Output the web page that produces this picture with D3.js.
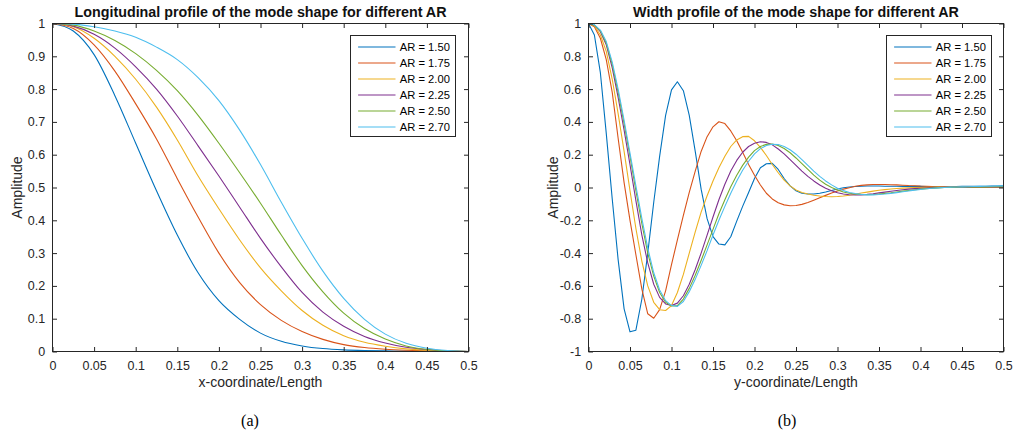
<!DOCTYPE html>
<html>
<head>
<meta charset="utf-8">
<script src="https://cdn.jsdelivr.net/npm/d3@7"></script>
<style>
  html, body { margin: 0; padding: 0; background: #ffffff; }
  svg { display: block; }
</style>
</head>
<body>
<svg id="fig" width="1014" height="435"></svg>
<script>
// ---------------- Data ----------------
const arLabels = ["AR = 1.50", "AR = 1.75", "AR = 2.00", "AR = 2.25", "AR = 2.50", "AR = 2.70"];
const seriesColors = ["#0072BD", "#D95319", "#EDB120", "#7E2F8E", "#77AC30", "#4DBEEE"];

// (a) longitudinal profile, sampled along x/L
const longX = [0, 0.025, 0.05, 0.075, 0.1, 0.125, 0.15, 0.175, 0.2, 0.225, 0.25,
               0.275, 0.3, 0.325, 0.35, 0.375, 0.4, 0.425, 0.45, 0.475, 0.5];
const longAR150 = [1, 0.977, 0.905, 0.78, 0.635, 0.49, 0.355, 0.24, 0.155, 0.098, 0.056,
                   0.031, 0.017, 0.009, 0.005, 0.003, 0.002, 0.001, 0.0005, 0.0002, 0];
const longAR175 = [1, 0.985, 0.935, 0.855, 0.755, 0.648, 0.527, 0.41, 0.30, 0.21, 0.143,
                   0.095, 0.061, 0.037, 0.021, 0.012, 0.007, 0.004, 0.002, 0.001, 0];
const longAR200 = [1, 0.99, 0.955, 0.9, 0.83, 0.745, 0.645, 0.535, 0.435, 0.34, 0.255,
                   0.185, 0.125, 0.08, 0.048, 0.028, 0.016, 0.008, 0.004, 0.002, 0];
const longAR225 = [1, 0.992, 0.967, 0.925, 0.868, 0.80, 0.718, 0.627, 0.535, 0.44, 0.345,
                   0.258, 0.18, 0.12, 0.077, 0.046, 0.026, 0.013, 0.006, 0.002, 0];
const longAR250 = [1, 0.995, 0.977, 0.948, 0.908, 0.857, 0.795, 0.72, 0.635, 0.545, 0.452,
                   0.355, 0.262, 0.182, 0.117, 0.07, 0.038, 0.017, 0.006, 0.002, 0];
const longAR270 = [1, 0.998, 0.99, 0.977, 0.958, 0.928, 0.89, 0.835, 0.765, 0.675, 0.57,
                   0.455, 0.345, 0.245, 0.162, 0.098, 0.053, 0.025, 0.01, 0.003, 0];

// (b) width profile, sampled along y/L
const widthY = [0, 0.0071, 0.0143, 0.0214, 0.0286, 0.0357, 0.0429, 0.05, 0.0571, 0.0643,
  0.0714, 0.0786, 0.0857, 0.0929, 0.1, 0.1071, 0.1143, 0.1214, 0.1286, 0.1357,
  0.1429, 0.15, 0.1571, 0.1643, 0.1714, 0.1786, 0.1857, 0.1929, 0.2, 0.2071,
  0.2143, 0.2214, 0.2286, 0.2357, 0.2429, 0.25, 0.2571, 0.2643, 0.2714, 0.2786,
  0.2857, 0.2929, 0.3, 0.3071, 0.3143, 0.3214, 0.3286, 0.3357, 0.3429, 0.35,
  0.3571, 0.3643, 0.3714, 0.3786, 0.3857, 0.3929, 0.4, 0.4071, 0.4143, 0.4214,
  0.4286, 0.4357, 0.4429, 0.45, 0.4571, 0.4643, 0.4714, 0.4786, 0.4857, 0.4929, 0.5];
const widthAR150 = [1, 0.93, 0.70, 0.33, -0.07, -0.44, -0.74, -0.88, -0.87, -0.68,
  -0.40, -0.09, 0.19, 0.44, 0.595, 0.645, 0.59, 0.44, 0.22, -0.01,
  -0.19, -0.30, -0.345, -0.35, -0.30, -0.205, -0.115, -0.03, 0.055, 0.12,
  0.145, 0.147, 0.11, 0.055, 0.01, -0.02, -0.035, -0.04, -0.04, -0.035,
  -0.027, -0.018, -0.009, -0.002, 0.003, 0.006, 0.008, 0.009, 0.009, 0.009,
  0.008, 0.008, 0.008, 0.007, 0.007, 0.007, 0.007, 0.006, 0.006, 0.006,
  0.006, 0.006, 0.006, 0.007, 0.007, 0.007, 0.008, 0.008, 0.009, 0.009, 0.01];
const widthAR175 = [1, 0.98, 0.91, 0.78, 0.58, 0.30, 0.03, -0.20, -0.41, -0.62,
  -0.77, -0.797, -0.745, -0.63, -0.47, -0.32, -0.17, -0.03, 0.10, 0.22,
  0.31, 0.37, 0.401, 0.39, 0.345, 0.285, 0.215, 0.14, 0.075, 0.015,
  -0.035, -0.07, -0.093, -0.106, -0.111, -0.11, -0.103, -0.092, -0.078, -0.063,
  -0.048, -0.034, -0.021, -0.01, -0.001, 0.008, 0.013, 0.016, 0.018, 0.018,
  0.018, 0.017, 0.016, 0.014, 0.012, 0.011, 0.009, 0.008, 0.006, 0.005,
  0.004, 0.003, 0.002, 0.002, 0.001, 0.001, 0, 0, 0, 0, 0];
const widthAR200 = [1, 0.985, 0.93, 0.83, 0.66, 0.45, 0.22, -0.02, -0.25, -0.45,
  -0.60, -0.70, -0.745, -0.75, -0.72, -0.64, -0.53, -0.40, -0.27, -0.15,
  -0.05, 0.04, 0.12, 0.19, 0.25, 0.29, 0.31, 0.312, 0.285, 0.245,
  0.195, 0.14, 0.09, 0.045, 0.01, -0.015, -0.03, -0.04, -0.047, -0.052,
  -0.055, -0.056, -0.055, -0.052, -0.047, -0.041, -0.034, -0.028, -0.022, -0.017,
  -0.013, -0.009, -0.006, -0.004, -0.002, -0.001, 0, 0.001, 0.001, 0.002,
  0.002, 0.002, 0.002, 0.002, 0.002, 0.002, 0.002, 0.002, 0.002, 0.002, 0.002];
const widthAR225 = [1, 0.99, 0.95, 0.87, 0.73, 0.55, 0.35, 0.14, -0.08, -0.29,
  -0.46, -0.59, -0.67, -0.71, -0.72, -0.705, -0.66, -0.59, -0.50, -0.40,
  -0.29, -0.18, -0.075, 0.02, 0.10, 0.165, 0.215, 0.25, 0.27, 0.279,
  0.275, 0.26, 0.235, 0.205, 0.17, 0.135, 0.10, 0.068, 0.04, 0.015,
  -0.005, -0.02, -0.032, -0.04, -0.044, -0.046, -0.045, -0.042, -0.038, -0.033,
  -0.028, -0.023, -0.018, -0.014, -0.01, -0.007, -0.005, -0.003, -0.001, 0,
  0.001, 0.001, 0.002, 0.002, 0.002, 0.003, 0.003, 0.003, 0.003, 0.003, 0.003];
const widthAR250 = [1, 0.99, 0.955, 0.88, 0.75, 0.58, 0.39, 0.19, -0.02, -0.22,
  -0.40, -0.54, -0.64, -0.70, -0.722, -0.72, -0.68, -0.615, -0.535, -0.445,
  -0.35, -0.255, -0.16, -0.075, 0.005, 0.075, 0.135, 0.185, 0.225, 0.25,
  0.263, 0.265, 0.256, 0.238, 0.212, 0.18, 0.145, 0.11, 0.075, 0.045,
  0.02, 0, -0.015, -0.027, -0.035, -0.04, -0.043, -0.044, -0.043, -0.04,
  -0.036, -0.032, -0.027, -0.022, -0.018, -0.014, -0.01, -0.007, -0.004, -0.002,
  0, 0.001, 0.002, 0.003, 0.003, 0.004, 0.004, 0.004, 0.005, 0.005, 0.005];
const widthAR270 = [1, 0.992, 0.96, 0.89, 0.765, 0.60, 0.41, 0.21, 0.01, -0.19,
  -0.37, -0.52, -0.625, -0.69, -0.72, -0.725, -0.695, -0.635, -0.56, -0.475,
  -0.385, -0.29, -0.20, -0.115, -0.035, 0.04, 0.105, 0.16, 0.205, 0.237,
  0.256, 0.264, 0.262, 0.25, 0.23, 0.203, 0.17, 0.135, 0.10, 0.068,
  0.04, 0.016, -0.004, -0.019, -0.03, -0.037, -0.042, -0.045, -0.045, -0.043,
  -0.04, -0.036, -0.031, -0.026, -0.021, -0.016, -0.012, -0.008, -0.005, -0.002,
  0, 0.002, 0.003, 0.004, 0.005, 0.006, 0.007, 0.008, 0.008, 0.009, 0.01];

// Tick values and their printed labels
const xTickValues = [0, 0.05, 0.1, 0.15, 0.2, 0.25, 0.3, 0.35, 0.4, 0.45, 0.5];
const xTickLabels = ["0", "0.05", "0.1", "0.15", "0.2", "0.25", "0.3", "0.35", "0.4", "0.45", "0.5"];
const longYTickValues = [0, 0.1, 0.2, 0.3, 0.4, 0.5, 0.6, 0.7, 0.8, 0.9, 1];
const longYTickLabels = ["0", "0.1", "0.2", "0.3", "0.4", "0.5", "0.6", "0.7", "0.8", "0.9", "1"];
const widthYTickValues = [-1, -0.8, -0.6, -0.4, -0.2, 0, 0.2, 0.4, 0.6, 0.8, 1];
const widthYTickLabels = ["-1", "-0.8", "-0.6", "-0.4", "-0.2", "0", "0.2", "0.4", "0.6", "0.8", "1"];

// ---------------- Drawing ----------------
const svg = d3.select("#fig");
const SANS = "'Liberation Sans', Arial, Helvetica, sans-serif";
const INK = "#262626";

function drawPanel(p) {
  const g = svg.append("g");
  const x = d3.scaleLinear().domain(p.xDomain).range([p.left, p.right]);
  const y = d3.scaleLinear().domain(p.yDomain).range([p.bottom, p.top]);

  const clipId = "clip-" + p.id;
  svg.append("clipPath").attr("id", clipId)
    .append("rect").attr("x", p.left).attr("y", p.top)
    .attr("width", p.right - p.left).attr("height", p.bottom - p.top);

  // data lines
  const line = d3.line().curve(p.curve)
    .x(d => x(d[0])).y(d => y(d[1]));
  const lines = g.append("g").attr("clip-path", `url(#${clipId})`);
  p.series.forEach((vals, k) => {
    const pts = p.xs.map((xv, i) => [xv, vals[i]]);
    lines.append("path").datum(pts)
      .attr("d", line)
      .attr("fill", "none")
      .attr("stroke", seriesColors[k])
      .attr("stroke-width", 1.1)
      .attr("stroke-linejoin", "round");
  });

  // axes (ticks point inward, mirrored on top and right)
  const tick = 4.5;
  const fmtX = (d, i) => p.xLabels[i];
  const fmtY = (d, i) => p.yLabels[i];

  const ax = g.append("g").attr("transform", `translate(0,${p.bottom})`)
    .call(d3.axisBottom(x).tickValues(p.xTicks).tickFormat(fmtX)
      .tickSizeInner(-tick).tickSizeOuter(0).tickPadding(9.4));
  const ay = g.append("g").attr("transform", `translate(${p.left},0)`)
    .call(d3.axisLeft(y).tickValues(p.yTicks).tickFormat(fmtY)
      .tickSizeInner(-tick).tickSizeOuter(0).tickPadding(7.3));
  const at = g.append("g").attr("transform", `translate(0,${p.top})`)
    .call(d3.axisTop(x).tickValues(p.xTicks).tickFormat("")
      .tickSizeInner(-tick).tickSizeOuter(0));
  const ar = g.append("g").attr("transform", `translate(${p.right},0)`)
    .call(d3.axisRight(y).tickValues(p.yTicks).tickFormat("")
      .tickSizeInner(-tick).tickSizeOuter(0));

  [ax, ay, at, ar].forEach(a => {
    a.select(".domain").remove();
    a.selectAll("line").attr("stroke", INK).attr("stroke-width", 1);
    a.selectAll("text").attr("fill", INK)
      .style("font-family", SANS).style("font-size", "12.5px");
  });

  // box
  g.append("rect")
    .attr("x", p.left).attr("y", p.top)
    .attr("width", p.right - p.left).attr("height", p.bottom - p.top)
    .attr("fill", "none").attr("stroke", INK).attr("stroke-width", 1);

  const cx = (p.left + p.right) / 2;
  const cy = (p.top + p.bottom) / 2;

  // title
  g.append("text")
    .attr("x", cx).attr("y", 17)
    .attr("text-anchor", "middle")
    .style("font-family", SANS).style("font-size", "14.3px").style("font-weight", "bold")
    .attr("fill", "#111")
    .text(p.title);

  // axis labels
  g.append("text")
    .attr("x", cx).attr("y", p.bottom + 35.8)
    .attr("text-anchor", "middle")
    .style("font-family", SANS).style("font-size", "14px")
    .attr("fill", INK)
    .text(p.xLabel);
  g.append("text")
    .attr("transform", `translate(${p.left - 31},${cy}) rotate(-90)`)
    .attr("text-anchor", "middle")
    .style("font-family", SANS).style("font-size", "14px")
    .attr("fill", INK)
    .text("Amplitude");

  // legend
  const lg = g.append("g").attr("transform", `translate(${p.legendX},${p.legendY})`);
  lg.append("rect")
    .attr("x", 0).attr("y", 0).attr("width", 105).attr("height", 101)
    .attr("fill", "#fff").attr("stroke", INK).attr("stroke-width", 1);
  arLabels.forEach((lab, k) => {
    const ry = 11.5 + k * 16;
    lg.append("line")
      .attr("x1", 7.6).attr("x2", 45).attr("y1", ry).attr("y2", ry)
      .attr("stroke", seriesColors[k]).attr("stroke-width", 1.1);
    lg.append("text")
      .attr("x", 49.3).attr("y", ry).attr("dy", "0.35em")
      .style("font-family", SANS).style("font-size", "11.2px")
      .attr("fill", "#000")
      .text(lab);
  });

  // sub-caption
  g.append("text")
    .attr("x", p.captionX).attr("y", 425.5)
    .attr("text-anchor", "middle")
    .style("font-family", "'Liberation Serif', 'Times New Roman', serif")
    .style("font-size", "16px")
    .attr("fill", "#000")
    .text(p.caption);
}

drawPanel({
  id: "long",
  left: 52.5, right: 468.5, top: 23.5, bottom: 351.5,
  xDomain: [0, 0.5], yDomain: [0, 1],
  xs: longX,
  series: [longAR150, longAR175, longAR200, longAR225, longAR250, longAR270],
  curve: d3.curveMonotoneX,
  xTicks: xTickValues, xLabels: xTickLabels,
  yTicks: longYTickValues, yLabels: longYTickLabels,
  title: "Longitudinal profile of the mode shape for different AR",
  xLabel: "x-coordinate/Length",
  legendX: 350.5, legendY: 35.5,
  caption: "(a)", captionX: 250
});

drawPanel({
  id: "width",
  left: 588.5, right: 1003.5, top: 23.5, bottom: 351.5,
  xDomain: [0, 0.5], yDomain: [-1, 1],
  xs: widthY,
  series: [widthAR150, widthAR175, widthAR200, widthAR225, widthAR250, widthAR270],
  curve: d3.curveLinear,
  xTicks: xTickValues, xLabels: xTickLabels,
  yTicks: widthYTickValues, yLabels: widthYTickLabels,
  title: "Width profile of the mode shape for different AR",
  xLabel: "y-coordinate/Length",
  legendX: 886.5, legendY: 35.5,
  caption: "(b)", captionX: 787
});
</script>
</body>
</html>
